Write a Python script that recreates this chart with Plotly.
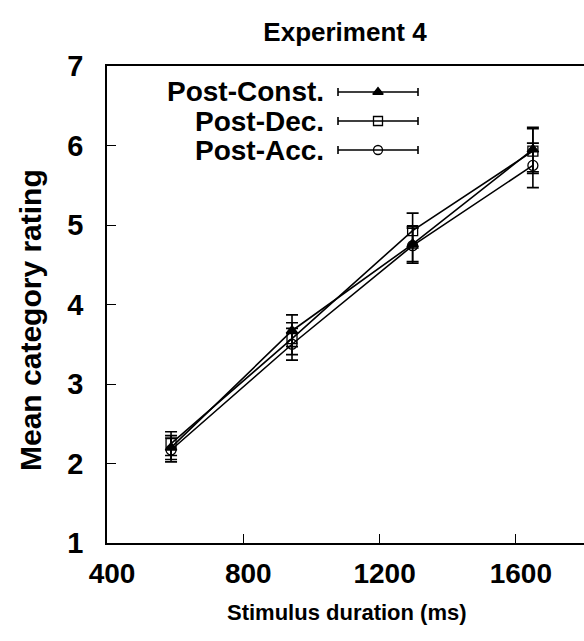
import plotly.graph_objects as go

durations = [588, 943, 1297, 1650]
series_names = ["Post-Const.", "Post-Dec.", "Post-Acc."]
post_const = [2.20, 3.67, 4.76, 5.95]
post_dec = [2.25, 3.57, 4.93, 5.93]
post_acc = [2.17, 3.50, 4.74, 5.75]
err_const = [0.15, 0.20, 0.22, 0.28]
err_dec = [0.15, 0.20, 0.22, 0.28]
err_acc = [0.15, 0.20, 0.22, 0.28]
x_ticks = [400, 800, 1200, 1600]
y_ticks = [1, 2, 3, 4, 5, 6, 7]

FONT = "Liberation Sans, Arial, sans-serif"
L, R, T, B = 107, 0, 66, 98
W, H = 584, 641
PH = H - T - B
PW = W - L - R

symbols = ["triangle-up", "square-open", "circle-open"]
sizes = [10, 10, 10]
values = [post_const, post_dec, post_acc]
errs = [err_const, err_dec, err_acc]

fig = go.Figure()
for name, vals, err, sym, sz in zip(series_names, values, errs, symbols, sizes):
    fig.add_trace(go.Scatter(
        x=durations, y=vals, mode="lines+markers", name=name,
        line=dict(color="black", width=1.6),
        marker=dict(symbol=sym, size=sz, color="black", line=dict(color="black", width=1.3)),
        error_y=dict(type="data", array=err, visible=True, color="black", thickness=1.6, width=6),
        showlegend=False,
    ))

# custom legend (horizontal error-bar samples) on an overlay axis in [0,1] units
legend_y = [(T + PH - 92) / PH, (T + PH - 121) / PH, (T + PH - 150) / PH]
for name, ly, sym, sz in zip(series_names, legend_y, symbols, sizes):
    fig.add_trace(go.Scatter(
        x=[(378 - L) / PW], y=[ly], xaxis="x2", yaxis="y2", mode="markers",
        marker=dict(symbol=sym, size=sz - 1, color="black", line=dict(color="black", width=1.3)),
        error_x=dict(type="constant", value=40 / PW, visible=True, color="black", thickness=1.6, width=4),
        showlegend=False, hoverinfo="skip",
    ))
    fig.add_annotation(x=(326 - L) / PW, y=ly, xref="paper", yref="paper", text="<b>%s</b>" % name,
                       showarrow=False, xanchor="right", yanchor="middle",
                       font=dict(family=FONT, size=28, color="black"))

# axis titles
fig.add_annotation(x=(347 - L) / PW, y=-(612 - T - PH) / PH, xref="paper", yref="paper",
                   text="<b>Stimulus duration (ms)</b>", showarrow=False,
                   xanchor="center", yanchor="middle", font=dict(family=FONT, size=22, color="black"))
fig.add_annotation(x=-(L - 30) / PW, y=(T + PH - 320) / PH, xref="paper", yref="paper",
                   text="<b>Mean category rating</b>", showarrow=False, textangle=-90,
                   xanchor="center", yanchor="middle", font=dict(family=FONT, size=30, color="black"))

fig.update_layout(
    width=W, height=H,
    margin=dict(l=L, r=R, t=T, b=B),
    paper_bgcolor="white", plot_bgcolor="white",
    font=dict(family=FONT, size=20, color="black"),
    title=dict(text="<b>Experiment 4</b>", x=345 / W, xanchor="center", y=1 - 32 / H, yanchor="middle",
               font=dict(family=FONT, size=26, color="black")),
    xaxis=dict(range=[400, 1800], tickvals=x_ticks, ticktext=["<b>%d</b>" % v for v in x_ticks],
               ticks="inside", ticklen=9, tickwidth=1.3, tickcolor="black",
               showline=True, linecolor="black", linewidth=1.6, mirror=True,
               showgrid=False, zeroline=False, ticklabelstandoff=5, ticklabelshift=5,
               tickfont=dict(family=FONT, size=28, color="black")),
    yaxis=dict(range=[1, 7], tickvals=y_ticks, ticktext=["<b>%d</b>" % v for v in y_ticks],
               ticks="inside", ticklen=9, tickwidth=1.3, tickcolor="black",
               showline=True, linecolor="black", linewidth=1.6, mirror=False,
               showgrid=False, zeroline=False, ticklabelstandoff=16,
               tickfont=dict(family=FONT, size=29, color="black")),
    xaxis2=dict(overlaying="x", range=[0, 1], visible=False, fixedrange=True),
    yaxis2=dict(overlaying="y", range=[0, 1], visible=False, fixedrange=True),
)

fig.write_html("out.html", config={"displayModeBar": False},
               post_script="document.body.style.margin='0px';")
